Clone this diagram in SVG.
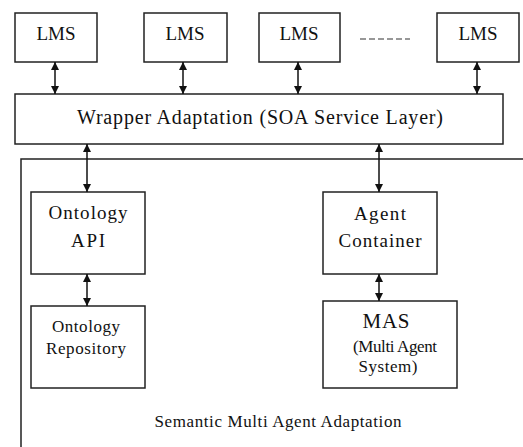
<svg xmlns="http://www.w3.org/2000/svg" width="523" height="447" viewBox="0 0 523 447">
<defs>
<style>
.box{fill:#fff;stroke:#222;stroke-width:1.5}
text{font-family:'Liberation Serif','Times New Roman',Tinos,'DejaVu Serif',serif;font-size:19px;fill:#111;text-anchor:middle}
.s{font-size:17px}
.c{stroke:#111;stroke-width:1.5;fill:none;marker-start:url(#ah);marker-end:url(#ah)}
</style>
<marker id="ah" viewBox="0 0 10 10" refX="10" refY="5" markerWidth="8" markerHeight="8" markerUnits="userSpaceOnUse" orient="auto-start-reverse">
<path d="M0,0 L10,5 L0,10 Z" fill="#111"/>
</marker>
</defs>
<rect width="523" height="447" fill="#fff"/>
<g id="semantic-container">
<path d="M523,159 H21 V447" fill="none" stroke="#222" stroke-width="1.5"/>
<text class="s" x="278" y="427" textLength="247" lengthAdjust="spacing">Semantic Multi Agent Adaptation</text>
</g>
<g id="lms1"><rect class="box" x="15" y="13" width="82" height="49"/><text x="56" y="40" textLength="39" lengthAdjust="spacing">LMS</text></g>
<g id="lms2"><rect class="box" x="144" y="13" width="83" height="49"/><text x="185" y="40" textLength="39" lengthAdjust="spacing">LMS</text></g>
<g id="lms3"><rect class="box" x="259" y="13" width="81" height="49"/><text x="299" y="40" textLength="39" lengthAdjust="spacing">LMS</text></g>
<g id="ellipsis"><line x1="360" y1="39" x2="410" y2="39" stroke="#777" stroke-width="1.3" stroke-dasharray="6,3"/></g>
<g id="lms4"><rect class="box" x="437" y="13" width="82" height="49"/><text x="478" y="40" textLength="39" lengthAdjust="spacing">LMS</text></g>
<g id="wrapper"><rect class="box" x="15" y="94" width="488" height="50"/><text x="260" y="124" style="font-size:20px" textLength="366" lengthAdjust="spacing">Wrapper Adaptation (SOA Service Layer)</text></g>
<g id="ontology-api"><rect class="box" x="31" y="192" width="114" height="82"/>
<text x="88" y="219" textLength="79" lengthAdjust="spacing">Ontology</text>
<text x="88" y="247" textLength="34" lengthAdjust="spacing">API</text></g>
<g id="agent-container"><rect class="box" x="323" y="192" width="114" height="82"/>
<text x="380" y="220" textLength="52" lengthAdjust="spacing">Agent</text>
<text x="380" y="247" textLength="83" lengthAdjust="spacing">Container</text></g>
<g id="ontology-repository"><rect class="box" x="31" y="306" width="114" height="82"/>
<text class="s" x="86" y="332" textLength="68" lengthAdjust="spacing">Ontology</text>
<text class="s" x="86" y="354" textLength="80" lengthAdjust="spacing">Repository</text></g>
<g id="mas"><rect class="box" x="323" y="301" width="134" height="87"/>
<text x="386" y="328" style="font-size:21px" textLength="47" lengthAdjust="spacing">MAS</text>
<text class="s" x="395" y="352" textLength="84" lengthAdjust="spacing">(Multi Agent</text>
<text class="s" x="388" y="372" textLength="59" lengthAdjust="spacing">System)</text></g>
<g id="connectors">
<line class="c" x1="55" y1="62" x2="55" y2="94"/>
<line class="c" x1="183" y1="62" x2="183" y2="94"/>
<line class="c" x1="298" y1="62" x2="298" y2="94"/>
<line class="c" x1="477" y1="62" x2="477" y2="94"/>
<line class="c" x1="87" y1="144" x2="87" y2="192"/>
<line class="c" x1="379" y1="144" x2="379" y2="192"/>
<line class="c" x1="87" y1="274" x2="87" y2="306"/>
<line class="c" x1="379" y1="274" x2="379" y2="301"/>
</g>
</svg>
